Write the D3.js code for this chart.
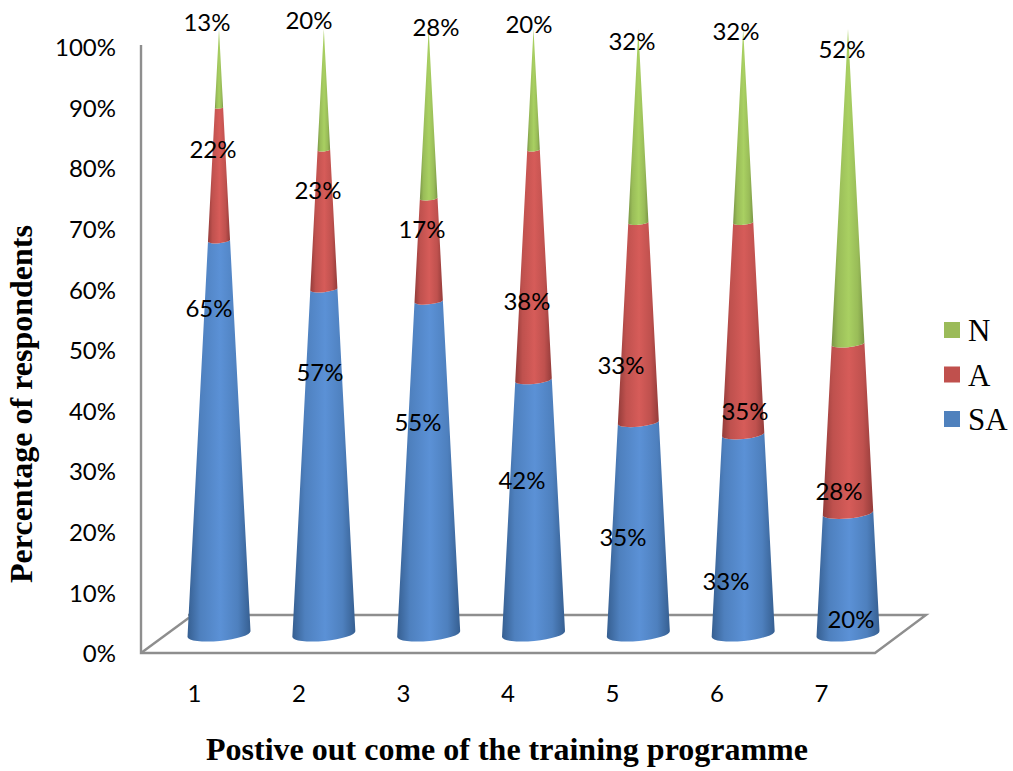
<!DOCTYPE html>
<html>
<head>
<meta charset="utf-8">
<script src="https://cdnjs.cloudflare.com/ajax/libs/d3/7.8.5/d3.min.js"></script>
<style>
html, body { margin: 0; padding: 0; background: #fff; }
svg { display: block; }
</style>
</head>
<body>
<svg id="chart" width="1013" height="771"></svg>
<script>
// Survey responses per item, in percent, stacked from the base of each cone
const categories = ["1", "2", "3", "4", "5", "6", "7"];
const seriesNames = ["SA", "A", "N"];
const saValues = [65, 57, 55, 42, 35, 33, 20];
const aValues = [22, 23, 17, 38, 33, 35, 28];
const nValues = [13, 20, 28, 20, 32, 32, 52];
const yTicks = [0, 10, 20, 30, 40, 50, 60, 70, 80, 90, 100];

// Hand-placed label centres, one row per series, as [x, y] in pixels
const labelSpots = [
  [[209, 307], [320, 371], [418, 421], [522, 479], [623, 536], [726, 580], [851, 618]],
  [[213, 148], [318, 189], [422, 228], [527, 300], [621, 364], [745, 410], [839, 490]],
  [[207, 21], [309, 19], [436, 26], [529, 23], [632, 40], [736, 30], [842, 48]]
];

const palette = {
  SA: { swatch: "#4f81bd", edge: "#365f91", mid: "#5b91d6" },
  A: { swatch: "#c0504d", edge: "#943c3a", mid: "#d65c59" },
  N: { swatch: "#9bbb59", edge: "#7a9646", mid: "#a9d062" }
};

const svg = d3.select("#chart");
const gridColor = "#8e8e8e";
const tickFont = "Lato, 'Open Sans', sans-serif";
const titleFont = "'Liberation Serif', serif";

// Wall scale for tick labels, cone scale for the marks (the cones stand on the floor plane)
const yWall = d3.scaleLinear().domain([0, 100]).range([654, 48]);
const yCone = d3.scaleLinear().domain([0, 100]).range([634, 29]);
const xFront = d3.scalePoint().domain(categories).range([194, 821]);
const xCone = d3.scalePoint().domain(categories).range([219, 848]);
const halfWidth = d3.scaleLinear().domain([0, 100]).range([31.5, 0]);

// Floor and back wall
const floorLine = d3.line();
svg.append("path")
  .attr("d", floorLine([[141, 45], [141, 653], [875, 653], [926, 615], [188, 615]]))
  .attr("fill", "none").attr("stroke", gridColor).attr("stroke-width", 2.4);
svg.append("path")
  .attr("d", floorLine([[141, 653], [190, 617]]))
  .attr("fill", "none").attr("stroke", gridColor).attr("stroke-width", 2.4);

// Horizontal shading that makes each slice read as a rounded surface
const defs = svg.append("defs");
seriesNames.forEach(name => {
  const g = defs.append("linearGradient").attr("id", "shade-" + name)
    .attr("x1", 0).attr("x2", 1).attr("y1", 0).attr("y2", 0);
  const c = palette[name];
  [[0, c.edge], [0.2, d3.interpolateRgb(c.edge, c.mid)(0.65)], [0.52, c.mid],
   [0.8, d3.interpolateRgb(c.edge, c.mid)(0.65)], [1, c.edge]].forEach(([o, col]) => {
    g.append("stop").attr("offset", o).attr("stop-color", col);
  });
});

// One slice of a cone, bounded below and above by tilted elliptical arcs
function slicePath(cx, v0, v1) {
  const point = (v, side) => {
    const w = halfWidth(v);
    return [cx + side * w, yCone(v) - side * w * 0.095];
  };
  const [lx0, ly0] = point(v0, -1), [rx0, ry0] = point(v0, 1);
  const [lx1, ly1] = point(v1, -1), [rx1, ry1] = point(v1, 1);
  const arc = (w, sweep, x, y) =>
    `A${Math.max(w, 0.01)} ${Math.max(w * 0.22, 0.01)} -5.4 0 ${sweep} ${x} ${y}`;
  return `M${lx0} ${ly0}L${lx1} ${ly1}` +
    arc(halfWidth(v1), 0, rx1, ry1) +
    `L${rx0} ${ry0}` +
    arc(halfWidth(v0), 1, lx0, ly0) + "Z";
}

const seriesValues = [saValues, aValues, nValues];
const stacks = categories.map((cat, i) => {
  let base = 0;
  return seriesNames.map((name, s) => {
    const from = base;
    base += seriesValues[s][i];
    return { cat, name, from, to: base, value: seriesValues[s][i], spot: labelSpots[s][i] };
  });
});

const cones = svg.selectAll("g.cone").data(stacks).join("g").attr("class", "cone");
cones.selectAll("path").data(d => d).join("path")
  .attr("d", d => slicePath(xCone(d.cat), d.from, d.to))
  .attr("fill", d => `url(#shade-${d.name})`);

// Value labels sit above all the cones
svg.selectAll("text.value").data(stacks.flat()).join("text")
  .attr("class", "value")
  .attr("x", d => d.spot[0]).attr("y", d => d.spot[1])
  .attr("text-anchor", "middle").attr("dominant-baseline", "central")
  .attr("font-family", tickFont).attr("font-size", 24).attr("fill", "#000")
  .text(d => d.value + "%");

// Percentage axis
const yAxis = d3.axisLeft(yWall).tickValues(yTicks).tickFormat(d => d + "%").tickSize(0).tickPadding(0);
const yAxisG = svg.append("g").attr("transform", "translate(116,0)").call(yAxis);
yAxisG.select(".domain").remove();
yAxisG.selectAll("text").attr("font-family", tickFont).attr("font-size", 24).attr("fill", "#000");

// Category axis
const xAxis = d3.axisBottom(xFront).tickSize(0).tickPadding(0);
const xAxisG = svg.append("g").attr("transform", "translate(0,685)").call(xAxis);
xAxisG.select(".domain").remove();
xAxisG.selectAll("text").attr("font-family", tickFont).attr("font-size", 24).attr("fill", "#000");

// Axis titles
svg.append("text").attr("x", 507).attr("y", 760).attr("text-anchor", "middle")
  .attr("font-family", titleFont).attr("font-weight", "bold").attr("font-size", 32)
  .text("Postive out come of the training programme");
svg.append("text").attr("transform", "translate(32,404) rotate(-90)").attr("text-anchor", "middle")
  .attr("font-family", titleFont).attr("font-weight", "bold").attr("font-size", 32)
  .text("Percentage of respondents");

// Legend, listed top to bottom in reverse stacking order
const legendY = d3.scalePoint().domain(["N", "A", "SA"]).range([330, 419]);
const legend = svg.selectAll("g.key").data(legendY.domain()).join("g")
  .attr("class", "key").attr("transform", d => `translate(944,${legendY(d)})`);
legend.append("rect").attr("x", 0).attr("y", -8).attr("width", 16).attr("height", 16)
  .attr("fill", d => palette[d].swatch);
legend.append("text").attr("x", 24).attr("y", 11)
  .attr("font-family", titleFont).attr("font-size", 31).attr("fill", "#000").text(d => d);
</script>
</body>
</html>
